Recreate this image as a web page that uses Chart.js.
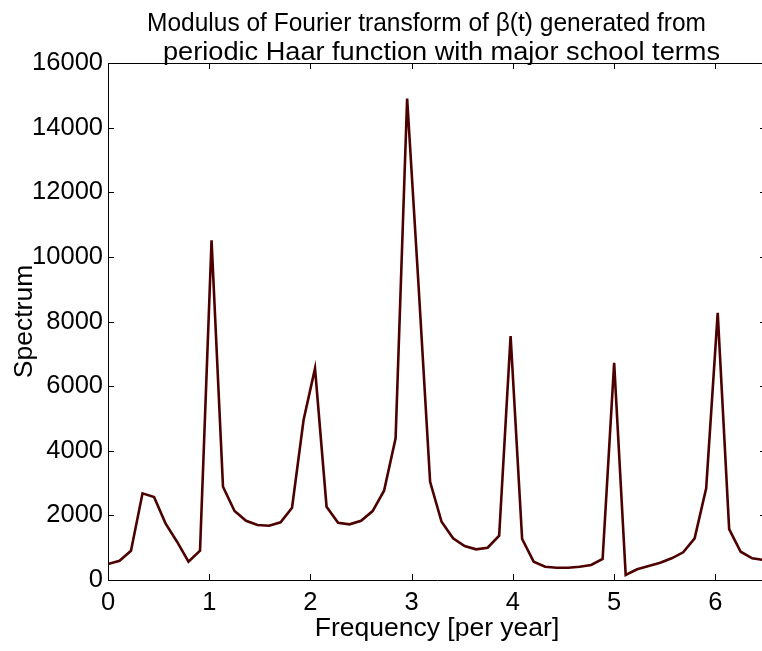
<!DOCTYPE html>
<html>
<head>
<meta charset="utf-8">
<script src="https://cdn.jsdelivr.net/npm/chart.js@4.4.1/dist/chart.umd.min.js"></script>
<style>
html,body{margin:0;padding:0;background:#fff;overflow:hidden;width:762px;height:651px;}
#wrap{position:absolute;left:0;top:0;width:780px;height:651px;}
</style>
</head>
<body>
<div id="wrap"><canvas id="c" width="780" height="651"></canvas></div>
<script>
const titleLines = ['Modulus of Fourier transform of \u03B2(t) generated from', 'periodic Haar function with major school terms'];
const xLabel = 'Frequency [per year]';
const yLabel = 'Spectrum';
const xTicks = [0, 1, 2, 3, 4, 5, 6];
const yTicks = [0, 2000, 4000, 6000, 8000, 10000, 12000, 14000, 16000];

const frequency = [0, 0.114, 0.227, 0.341, 0.455, 0.568, 0.682, 0.795, 0.909, 1.023,
  1.136, 1.25, 1.364, 1.477, 1.591, 1.705, 1.818, 1.932, 2.045, 2.159,
  2.273, 2.386, 2.5, 2.614, 2.727, 2.841, 2.955, 3.068, 3.182, 3.295,
  3.409, 3.523, 3.636, 3.75, 3.864, 3.977, 4.091, 4.205, 4.318, 4.432,
  4.545, 4.659, 4.773, 4.886, 5.0, 5.114, 5.227, 5.341, 5.455, 5.568,
  5.682, 5.795, 5.909, 6.023, 6.136, 6.25, 6.364, 6.477];
const spectrum = [495, 597, 906, 2682, 2567, 1754, 1185, 566, 906, 10516,
  2886, 2134, 1834, 1701, 1680, 1785, 2236, 4949, 6548, 2268,
  1772, 1722, 1834, 2134, 2762, 4383, 14900, 9100, 3041, 1803,
  1290, 1052, 950, 999, 1370, 7550, 1268, 566, 411, 380,
  380, 411, 464, 650, 6721, 155, 331, 433, 535, 671,
  857, 1290, 2836, 8268, 1577, 875, 671, 619];

const FONT = '"Liberation Sans", Arial, Helvetica, sans-serif';

function drawFitted(ctx, text, cx, baseY, targetW) {
  const w = ctx.measureText(text).width;
  const sx = targetW / w;
  ctx.save();
  ctx.translate(cx, baseY);
  ctx.scale(sx, 1);
  ctx.fillText(text, 0, 0);
  ctx.restore();
}

const framePlugin = {
  id: 'frame',
  afterDraw(chart) {
    const {ctx, chartArea: a, scales: {x, y}} = chart;
    ctx.save();
    ctx.strokeStyle = '#000';
    ctx.lineWidth = 1;
    ctx.beginPath();
    ctx.rect(Math.round(a.left) + 0.5, Math.round(a.top) + 0.5, Math.round(a.right - a.left), Math.round(a.bottom - a.top));
    const L = 6;
    x.ticks.forEach(t => {
      const px = Math.round(x.getPixelForValue(t.value)) + 0.5;
      ctx.moveTo(px, a.bottom); ctx.lineTo(px, a.bottom - L);
      ctx.moveTo(px, a.top); ctx.lineTo(px, a.top + L);
    });
    y.ticks.forEach(t => {
      const py = Math.round(y.getPixelForValue(t.value)) + 0.5;
      ctx.moveTo(a.left, py); ctx.lineTo(a.left + L, py);
      ctx.moveTo(a.right, py); ctx.lineTo(a.right - L, py);
    });
    ctx.stroke();
    ctx.fillStyle = '#000';
    ctx.font = '26px ' + FONT;
    ctx.textAlign = 'center';
    ctx.textBaseline = 'alphabetic';
    drawFitted(ctx, titleLines[0], 426.5, 31, 559);
    drawFitted(ctx, titleLines[1], 441.5, 60, 557);
    ctx.restore();
  }
};

new Chart(document.getElementById('c'), {
  type: 'line',
  data: {
    datasets: [{
      data: frequency.map((f, i) => ({x: f, y: spectrum[i]})),
      borderColor: '#4c0000',
      borderWidth: 2.6,
      pointRadius: 0,
      tension: 0,
      fill: false
    }]
  },
  options: {
    responsive: false,
    animation: false,
    layout: {padding: {left: 0, right: 14, top: 63, bottom: 0}},
    plugins: {legend: {display: false}, tooltip: {enabled: false}, title: {display: false}},
    scales: {
      x: {
        type: 'linear', min: 0, max: 6.5,
        afterBuildTicks: s => { s.ticks = xTicks.map(v => ({value: v})); },
        afterFit: s => { s.height = 71; },
        grid: {display: false, drawTicks: false},
        border: {display: false},
        ticks: {color: '#000', font: {family: FONT, size: 25.5}, padding: 8, maxRotation: 0, autoSkip: false, callback: v => String(v)},
        title: {display: true, text: xLabel, color: '#000', font: {family: FONT, size: 26.5}, padding: {top: 0, bottom: 6}}
      },
      y: {
        type: 'linear', min: 0, max: 16000,
        afterBuildTicks: s => { s.ticks = yTicks.map(v => ({value: v})); },
        afterFit: s => { s.width = 108; },
        grid: {display: false, drawTicks: false},
        border: {display: false},
        ticks: {color: '#000', font: {family: FONT, size: 25.5}, padding: 5, autoSkip: false, callback: v => String(v)},
        title: {display: true, text: yLabel, color: '#000', font: {family: FONT, size: 26.5}, padding: {top: 9, bottom: 0}}
      }
    }
  },
  plugins: [framePlugin]
});
</script>
</body>
</html>
